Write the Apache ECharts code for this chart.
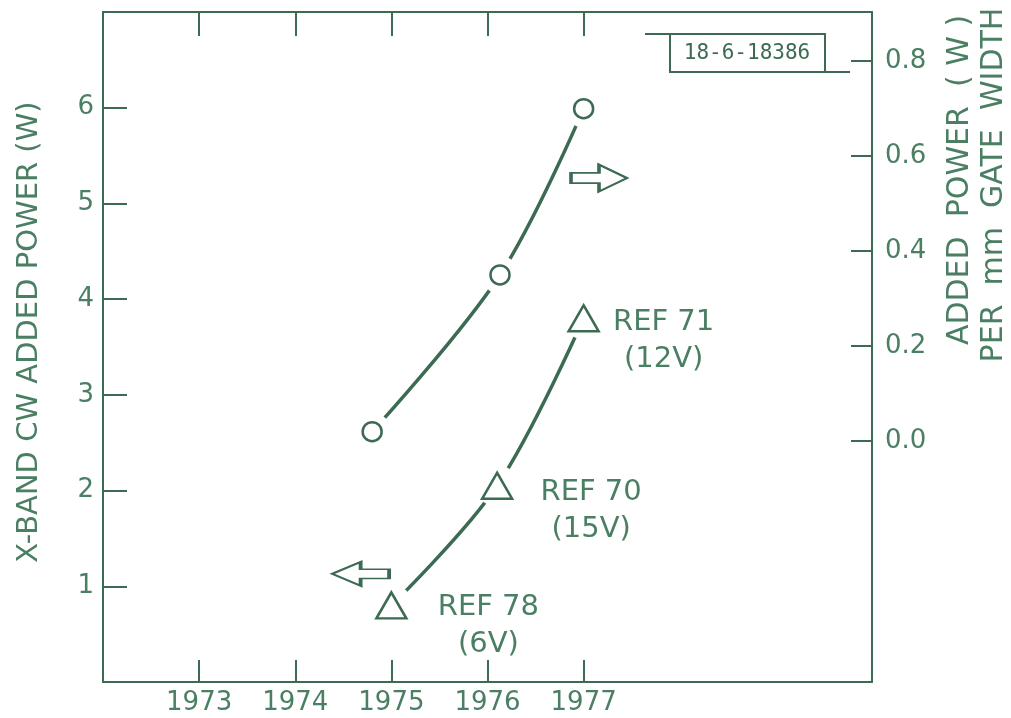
<!DOCTYPE html>
<html>
<head>
<meta charset="utf-8">
<script src="https://cdn.jsdelivr.net/npm/echarts@6/dist/echarts.min.js"></script>
<style>
  html, body { margin: 0; padding: 0; background: #ffffff; }
  #chart { width: 1011px; height: 718px; }
</style>
</head>
<body>
<div id="chart"></div>
<script>
// Added-power progress of X-band devices, by year
const circleYears = [1974.8, 1976.13, 1977.0];
const circlePowerPerMm = [0.02, 0.35, 0.70];        // W per mm gate width (right axis)
const triangleYears = [1975.0, 1976.1, 1977.0];
const trianglePower = [0.8, 2.05, 3.8];              // W (left axis)
const triangleRefs = ['REF 78\n(6V)', 'REF 70\n(15V)', 'REF 71\n(12V)'];
const yearTicks = [1973, 1974, 1975, 1976, 1977];
const leftTicks = [1, 2, 3, 4, 5, 6];
const rightTicks = [0.0, 0.2, 0.4, 0.6, 0.8];
const drawingNumber = '18-6-18386';
const leftAxisTitle = 'X-BAND CW ADDED POWER (W)';
const rightAxisTitle = ['ADDED  POWER  ( W )', 'PER  mm  GATE  WIDTH'];

const INK = '#3d6a53';
const TEXT = '#4b7f63';
const FONT = '"DejaVu Sans", sans-serif';

// Label placement for each triangle point (offset from the marker centre)
const triangleLabelOffsets = [[97, 21], [94, 25], [80, 23]];

const pairs = (xs, ys) => xs.map((x, i) => [x, ys[i]]);

const arrowRight = 'path://M0,8 L28,8 L28,0 L56,13 L28,26 L28,18 L0,18 Z';

const chart = echarts.init(document.getElementById('chart'), null, { renderer: 'canvas' });

const axisLine = { show: true, onZero: false, lineStyle: { color: INK, width: 2 } };
const tickFont = { color: TEXT, fontFamily: FONT, fontSize: 26 };

const option = {
  backgroundColor: '#ffffff',
  animation: false,
  grid: { left: 103, right: 139, top: 12, bottom: 36, containLabel: false },
  xAxis: [
    {
      type: 'value', min: 1972, max: 1980, interval: 1, position: 'bottom',
      axisLine: axisLine,
      axisTick: { show: true, inside: true, length: 22, customValues: yearTicks,
                  lineStyle: { color: INK, width: 2 } },
      axisLabel: Object.assign({ show: true, customValues: yearTicks, margin: 8,
                   formatter: v => String(Math.round(v)) }, tickFont),
      splitLine: { show: false }
    },
    {
      type: 'value', min: 1972, max: 1980, interval: 1, position: 'top',
      axisLine: axisLine,
      axisTick: { show: true, inside: true, length: 24, customValues: yearTicks,
                  lineStyle: { color: INK, width: 2 } },
      axisLabel: { show: false },
      splitLine: { show: false }
    }
  ],
  yAxis: [
    {
      type: 'value', min: 0, max: 7, interval: 1, position: 'left',
      axisLine: axisLine,
      axisTick: { show: true, inside: true, length: 24, customValues: leftTicks,
                  lineStyle: { color: INK, width: 2 } },
      axisLabel: Object.assign({ show: true, customValues: leftTicks, margin: 9 }, tickFont),
      splitLine: { show: false }
    },
    {
      type: 'value', min: -0.507, max: 0.9035, position: 'right',
      axisLine: axisLine,
      axisTick: { show: true, inside: true, length: 21, customValues: rightTicks,
                  lineStyle: { color: INK, width: 2 } },
      axisLabel: Object.assign({ show: true, customValues: rightTicks, margin: 13,
                   formatter: v => v.toFixed(1) }, tickFont),
      splitLine: { show: false }
    }
  ],
  series: [
    // Circles: power per mm gate width, read on the right axis
    {
      type: 'line', xAxisIndex: 0, yAxisIndex: 1, z: 2,
      data: pairs(circleYears, circlePowerPerMm),
      smooth: 0.35, showSymbol: false, silent: true,
      lineStyle: { color: INK, width: 3.5 }
    },
    {
      type: 'scatter', xAxisIndex: 0, yAxisIndex: 1, z: 3, silent: true,
      data: pairs(circleYears, circlePowerPerMm),
      symbol: 'circle', symbolSize: 38,
      itemStyle: { color: '#ffffff', opacity: 1 }
    },
    {
      type: 'scatter', xAxisIndex: 0, yAxisIndex: 1, z: 4,
      data: pairs(circleYears, circlePowerPerMm),
      symbol: 'circle', symbolSize: 19,
      itemStyle: { color: '#ffffff', borderColor: INK, borderWidth: 2.5, opacity: 1 },
      markPoint: {
        symbol: arrowRight, symbolSize: [56, 27], silent: true,
        itemStyle: { color: '#ffffff', borderColor: INK, borderWidth: 2.5 },
        label: { show: false },
        data: [{ coord: [1977.16, 0.554] }]
      }
    },
    // Triangles: total added power, read on the left axis
    {
      type: 'line', xAxisIndex: 0, yAxisIndex: 0, z: 2,
      data: pairs(triangleYears, trianglePower),
      smooth: 0.35, showSymbol: false, silent: true,
      lineStyle: { color: INK, width: 3.5 }
    },
    {
      type: 'scatter', xAxisIndex: 0, yAxisIndex: 0, z: 3, silent: true,
      data: pairs(triangleYears, trianglePower),
      symbol: 'circle', symbolSize: 42,
      itemStyle: { color: '#ffffff', opacity: 1 }
    },
    {
      type: 'scatter', xAxisIndex: 0, yAxisIndex: 0, z: 4,
      data: triangleYears.map((x, i) => ({
        value: [x, trianglePower[i]],
        label: {
          show: true, formatter: triangleRefs[i], position: 'inside',
          offset: triangleLabelOffsets[i], align: 'center', verticalAlign: 'middle',
          color: TEXT, fontFamily: FONT, fontSize: 29, lineHeight: 37
        }
      })),
      symbol: 'triangle', symbolSize: [30, 26],
      itemStyle: { color: '#ffffff', borderColor: INK, borderWidth: 2.5, opacity: 1 },
      markPoint: {
        symbol: arrowRight, symbolSize: [57, 24], symbolRotate: 180, silent: true,
        itemStyle: { color: '#ffffff', borderColor: INK, borderWidth: 2.5 },
        label: { show: false },
        data: [{ coord: [1974.68, 1.13] }]
      }
    }
  ],
  graphic: [
    // drawing number box with its leader lines
    {
      type: 'group', silent: true,
      children: [
        { type: 'rect', shape: { x: 670, y: 34, width: 155, height: 38 },
          style: { fill: '#ffffff', stroke: INK, lineWidth: 2 } },
        { type: 'line', shape: { x1: 645, y1: 34, x2: 670, y2: 34 },
          style: { stroke: INK, lineWidth: 2 } },
        { type: 'line', shape: { x1: 825, y1: 72, x2: 850, y2: 72 },
          style: { stroke: INK, lineWidth: 2 } },
        { type: 'text', x: 747, y: 54,
          style: { text: drawingNumber, fill: INK, font: '21px "DejaVu Sans Mono", monospace',
                   align: 'center', verticalAlign: 'middle' } }
      ]
    },
    // axis titles
    {
      type: 'text', x: 29, y: 332, rotation: Math.PI / 2, silent: true,
      style: { text: leftAxisTitle, fill: TEXT, font: '29px ' + FONT,
               align: 'center', verticalAlign: 'middle' }
    },
    {
      type: 'text', x: 960, y: 180, rotation: Math.PI / 2, silent: true,
      style: { text: rightAxisTitle[0], fill: TEXT, font: '30px ' + FONT,
               align: 'center', verticalAlign: 'middle' }
    },
    {
      type: 'text', x: 994, y: 185, rotation: Math.PI / 2, silent: true,
      style: { text: rightAxisTitle[1], fill: TEXT, font: '30px ' + FONT,
               align: 'center', verticalAlign: 'middle' }
    }
  ]
};

chart.setOption(option);
</script>
</body>
</html>
